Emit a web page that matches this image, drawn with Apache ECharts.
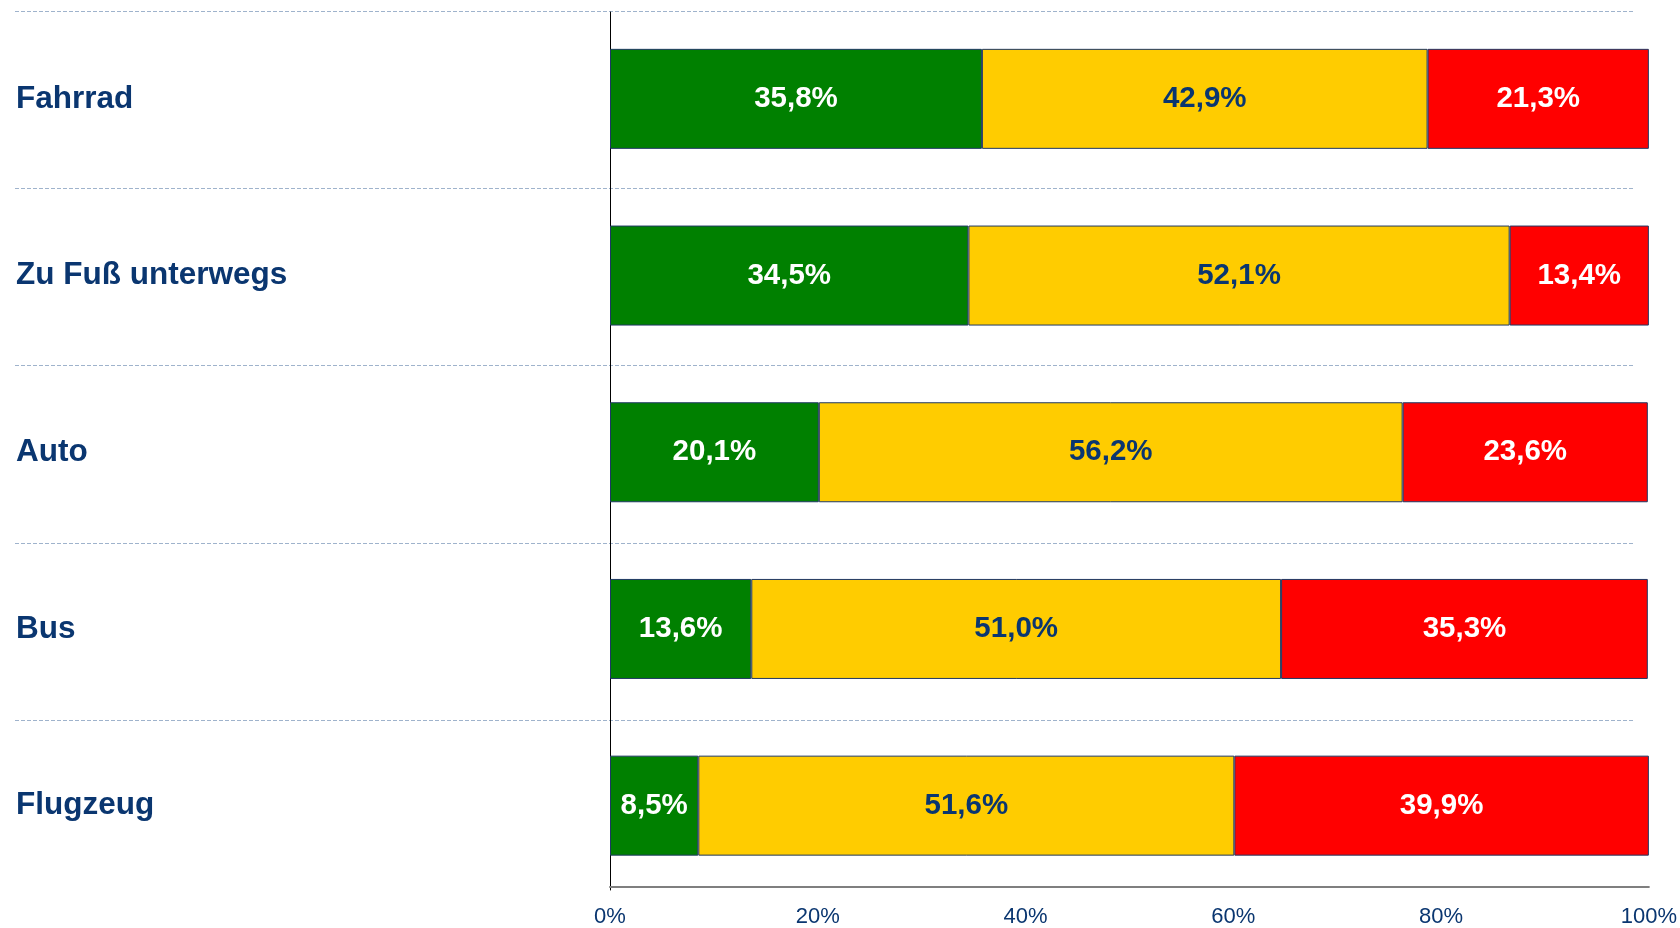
<!DOCTYPE html>
<html>
<head>
<meta charset="utf-8">
<script src="https://cdn.jsdelivr.net/npm/echarts@6/dist/echarts.min.js"></script>
<style>
html, body { margin: 0; padding: 0; background: #fff; }
#chart { width: 1680px; height: 928px; }
</style>
</head>
<body>
<div id="chart"></div>
<script>
// Kategorien und Anteile
var categories = ['Fahrrad', 'Zu Fuß unterwegs', 'Auto', 'Bus', 'Flugzeug'];
var greenValues = [35.8, 34.5, 20.1, 13.6, 8.5];
var yellowValues = [42.9, 52.1, 56.2, 51.0, 51.6];
var redValues = [21.3, 13.4, 23.6, 35.3, 39.9];
var xTicks = [0, 20, 40, 60, 80, 100];

var navy = '#0A3670';

function fmt(p) {
    return p.value.toFixed(1).replace('.', ',') + '%';
}

function barSeries(name, data, color, textColor) {
    return {
        name: name,
        type: 'bar',
        stack: 'total',
        xAxisIndex: 1,
        yAxisIndex: 1,
        barWidth: 100,
        data: data,
        itemStyle: { color: color, borderColor: '#1F3864', borderWidth: 1 },
        label: {
            show: true,
            position: 'inside',
            formatter: fmt,
            color: textColor,
            fontFamily: 'Liberation Sans, Arial, sans-serif',
            fontWeight: 'bold',
            fontSize: 29.5
        }
    };
}

window.onload = function() {
    var myChart = echarts.init(document.getElementById('chart'));
    var option = {
        animation: false,
        grid: [
            // nur für die gestrichelten Trennlinien
            { left: 15, right: 45, top: 11, height: 709.2 },
            // Balken
            { left: 610, right: 29, top: 10.5, height: 886.5 },
            // senkrechte Achsenlinie
            { left: 610, right: 29, top: 12, bottom: 38 }
        ],
        xAxis: [{
            gridIndex: 0,
            type: 'value',
            show: false
        }, {
            gridIndex: 1,
            type: 'value',
            min: xTicks[0],
            max: xTicks[xTicks.length - 1],
            interval: 20,
            offset: -7,
            axisLine: { show: true, lineStyle: { color: '#7F7F7F', width: 2 } },
            axisTick: { show: false },
            splitLine: { show: false },
            axisLabel: {
                formatter: '{value}%',
                color: navy,
                fontFamily: 'Liberation Sans, Arial, sans-serif',
                fontSize: 22,
                margin: 19
            }
        }, {
            gridIndex: 2,
            type: 'value',
            show: false
        }],
        yAxis: [{
            gridIndex: 0,
            type: 'value',
            inverse: true,
            min: 0,
            max: 4,
            interval: 1,
            axisLine: { show: false },
            axisTick: { show: false },
            axisLabel: { show: false },
            splitLine: { show: true, lineStyle: { color: '#9FB3CC', type: [4, 2], width: 1 } }
        }, {
            gridIndex: 1,
            type: 'category',
            inverse: true,
            data: categories,
            axisLine: { show: false },
            axisTick: { show: false },
            splitLine: { show: false },
            axisLabel: {
                align: 'left',
                margin: 594,
                color: navy,
                fontFamily: 'Liberation Sans, Arial, sans-serif',
                fontWeight: 'bold',
                fontSize: 31.5
            }
        }, {
            gridIndex: 2,
            type: 'value',
            axisLine: { show: true, lineStyle: { color: '#000', width: 1 } },
            axisTick: { show: false },
            axisLabel: { show: false },
            splitLine: { show: false }
        }],
        series: [
            barSeries('gut', greenValues, '#008000', '#fff'),
            barSeries('mittel', yellowValues, '#FFCC00', navy),
            barSeries('schlecht', redValues, '#FF0000', '#fff')
        ]
    };
    myChart.setOption(option);
};
</script>
</body>
</html>
